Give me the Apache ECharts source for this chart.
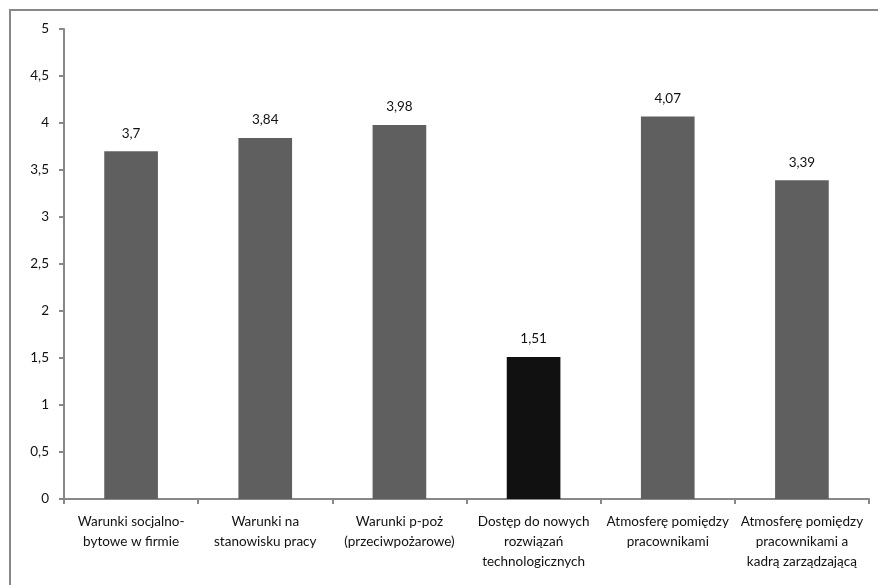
<!DOCTYPE html>
<html>
<head>
<meta charset="utf-8">
<script src="https://cdn.jsdelivr.net/npm/echarts@6/dist/echarts.min.js"></script>
<style>
  html, body { margin: 0; padding: 0; background: #fff; }
  #chart { width: 878px; height: 585px; }
</style>
</head>
<body>
<div id="chart"></div>
<script>
// dane
const categories = [
  "Warunki socjalno-\nbytowe w firmie",
  "Warunki na\nstanowisku pracy",
  "Warunki p-poż\n(przeciwpożarowe)",
  "Dostęp do nowych\nrozwiązań\ntechnologicznych",
  "Atmosferę pomiędzy\npracownikami",
  "Atmosferę pomiędzy\npracownikami a\nkadrą zarządzającą"
]
const values = [3.7, 3.84, 3.98, 1.51, 4.07, 3.39]
const highlightIndex = 3

const chart = echarts.init(document.getElementById("chart"))

const fmt = v => String(v).replace(".", ",")

const option = {
  animation: false,
  textStyle: { fontFamily: "Lato, 'Open Sans', sans-serif" },
  graphic: [
    {
      type: "rect",
      shape: { x: 10, y: 10, width: 880, height: 590 },
      style: { fill: "none", stroke: "#888", lineWidth: 2 }
    }
  ],
  grid: { left: 64, right: 9, top: 29, bottom: 86 },
  xAxis: {
    type: "category",
    data: categories,
    axisLine: { lineStyle: { color: "#888", width: 2 } },
    axisTick: { show: true, length: 5, lineStyle: { color: "#888", width: 2 } },
    axisLabel: {
      color: "#111",
      fontSize: 13.5,
      lineHeight: 20,
      margin: 13,
      interval: 0
    }
  },
  yAxis: {
    type: "value",
    min: 0,
    max: 5,
    interval: 0.5,
    splitLine: { show: false },
    axisLine: { show: true, lineStyle: { color: "#888", width: 2 } },
    axisTick: { show: true, length: 5, lineStyle: { color: "#888", width: 2 } },
    axisLabel: {
      color: "#111",
      fontSize: 13.5,
      margin: 15,
      formatter: v => fmt(v)
    }
  },
  series: [
    {
      type: "bar",
      barWidth: "40%",
      data: values.map((v, i) => ({
        value: v,
        itemStyle: { color: i === highlightIndex ? "#111111" : "#5f5f5f" }
      })),
      label: {
        show: true,
        position: "top",
        distance: 11,
        color: "#111",
        fontSize: 13.5,
        formatter: p => fmt(p.value)
      }
    }
  ]
}

chart.setOption(option)
</script>
</body>
</html>
